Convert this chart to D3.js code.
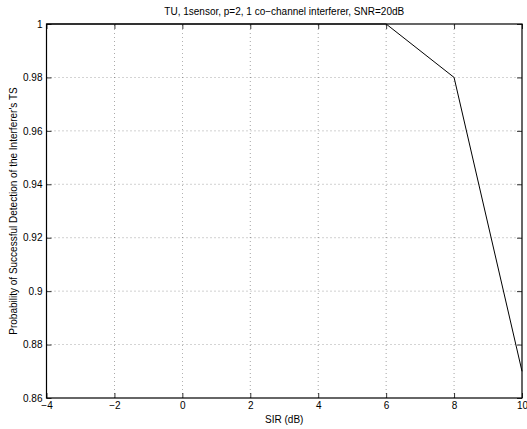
<!doctype html>
<html>
  <head>
    <meta charset="utf-8">
    <script src="https://cdnjs.cloudflare.com/ajax/libs/d3/7.8.5/d3.min.js"></script>
    <style>
      body { margin: 0; background: #fff; }
      text { font-family: "Liberation Sans", Arial, sans-serif; font-size: 10px; fill: #000; }
      .grid line { stroke: #000; stroke-width: 0.6; stroke-dasharray: 1 3; opacity: .6; }
    </style>
  </head>
  <body>
    <svg width="527" height="429"></svg>
    <script>
      var sir = [-4, -2, 0, 2, 4, 6, 8, 10];
      var prob = [1, 1, 1, 1, 1, 1, 0.98, 0.87];
      var xTicks = [-4, -2, 0, 2, 4, 6, 8, 10];
      var yTicks = [0.86, 0.88, 0.9, 0.92, 0.94, 0.96, 0.98, 1];

      var m = {left: 46.5, right: 5, top: 24, bottom: 31};
      var W = 527, H = 429;
      var svg = d3.select("svg");

      var x = d3.scaleLinear().domain([-4, 10]).range([m.left, W - m.right]);
      var y = d3.scaleLinear().domain([0.86, 1]).range([H - m.bottom, m.top]);

      // grid
      var grid = svg.append("g").attr("class", "grid");
      grid.selectAll("line.v")
        .data(xTicks.slice(1, -1))
        .enter().append("line")
          .attr("x1", d => x(d)).attr("x2", d => x(d))
          .attr("y1", y(0.86)).attr("y2", y(1));
      grid.selectAll("line.h")
        .data(yTicks.slice(1, -1))
        .enter().append("line")
          .attr("y1", d => y(d)).attr("y2", d => y(d))
          .attr("x1", x(-4)).attr("x2", x(10));

      // axes, ticks inward
      var fmt = d => d3.format("")(d).replace("-", "\u2212");
      svg.append("g").attr("transform", `translate(0,${y(0.86)})`)
        .call(d3.axisBottom(x).tickValues(xTicks).tickSize(-5).tickPadding(4).tickFormat(fmt));
      svg.append("g").attr("transform", `translate(${x(-4)},0)`)
        .call(d3.axisLeft(y).tickValues(yTicks).tickSize(-5).tickPadding(4).tickFormat(d3.format("")));
      svg.append("g").attr("transform", `translate(0,${y(1)})`)
        .call(d3.axisTop(x).tickValues(xTicks).tickSize(-5).tickFormat(""));
      svg.append("g").attr("transform", `translate(${x(10)},0)`)
        .call(d3.axisRight(y).tickValues(yTicks).tickSize(-5).tickFormat(""));
      svg.selectAll(".domain").remove();
      svg.selectAll(".tick line").attr("stroke", "#000").attr("stroke-width", 0.8);
      svg.selectAll(".tick text").style("font-family", "'Liberation Sans', Arial, sans-serif").style("font-size", "10px");

      // box
      svg.append("rect")
        .attr("x", x(-4)).attr("y", y(1))
        .attr("width", x(10) - x(-4)).attr("height", y(0.86) - y(1))
        .attr("fill", "none").attr("stroke", "#000").attr("stroke-width", 1.2);

      // data line
      var line = d3.line().x((d, i) => x(sir[i])).y(d => y(d));
      svg.append("path")
        .datum(prob)
        .attr("d", line)
        .attr("fill", "none").attr("stroke", "#000").attr("stroke-width", 1);

      // labels
      svg.append("text").attr("x", (x(-4) + x(10)) / 2).attr("y", 15)
        .attr("text-anchor", "middle").text("TU, 1sensor, p=2, 1 co\u2212channel interferer, SNR=20dB");
      svg.append("text").attr("x", (x(-4) + x(10)) / 2).attr("y", 423)
        .attr("text-anchor", "middle").text("SIR (dB)");
      svg.append("text")
        .attr("transform", `translate(17,${(y(0.86) + y(1)) / 2}) rotate(-90)`)
        .attr("text-anchor", "middle").text("Probability of Successful Detection of the Interferer's TS");
    </script>
  </body>
</html>
